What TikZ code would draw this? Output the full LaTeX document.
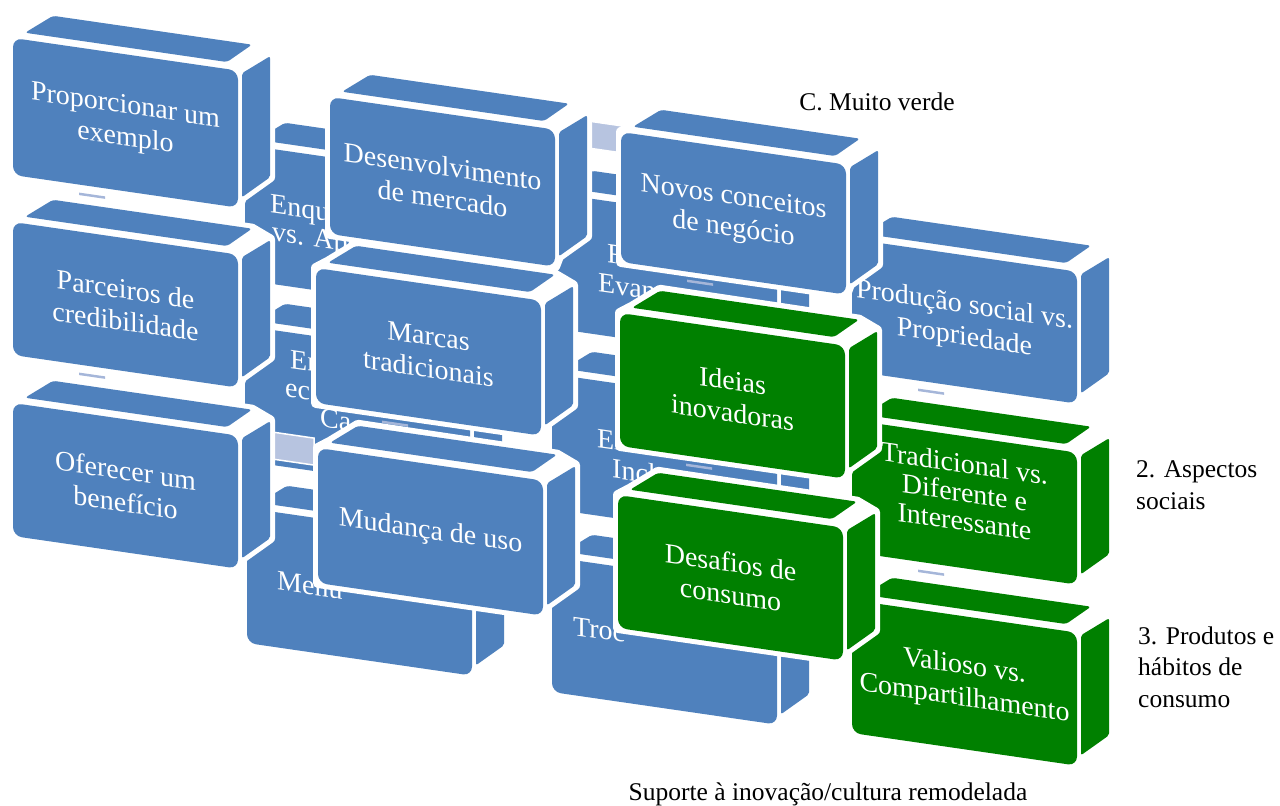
\documentclass[tikz,border=0pt]{standalone}
\usepackage{fontspec}
\setmainfont{Liberation Serif}
\definecolor{slabblue}{HTML}{4F81BD}
\definecolor{slabgreen}{HTML}{008000}
\definecolor{linkblue}{HTML}{B7C4E0}
\definecolor{tickblue}{HTML}{A5B6D9}
\tikzset{
  facetext/.style={text=white, align=center, inner sep=0pt, transform shape,
    font=\fontsize{28}{32}\selectfont},
  peektext/.style={text=white, anchor=base west, inner sep=0pt, transform shape,
    font=\fontsize{28}{32}\selectfont},
  caption/.style={text=black, inner sep=0pt, font=\fontsize{25.5}{31.5}\selectfont},
  hull/.style={fill=white, draw=white, line width=10pt, line join=round},
  linkbar/.style={fill=linkblue, draw=white, line width=1.5pt},
}
% one bevelled slab: #1,#2 = top-left of the front face, #3 = face height,
% #4 = colour, #5 = contents drawn in the slab's own (slanted) frame
\newcommand\slab[5]{%
  \begin{scope}[shift={(#1,#2)}, yslant=-0.145]
    \path[hull] (0,#3) -- (0,0) -- (12,-8) -- (40,-29) -- (239,-28) -- (257,-20)
      -- (257,#3-35) -- (229,#3-11) -- (225,#3) -- cycle;
    \fill[#4, rounded corners=9pt] (0,0) -- (225,0) -- (225,#3) -- (0,#3) -- cycle;
    \fill[#4, rounded corners=3pt] (12,-7) -- (40,-28) -- (239,-28) -- (214,-7) -- cycle;
    \fill[#4, rounded corners=2pt] (229,2) -- (257,-19) -- (257,#3-35) -- (229,#3-11) -- cycle;
    #5
  \end{scope}}
% small down link under a slab of height #1
\newcommand\slabtick[1]{\fill[tickblue] (66,#1+8) rectangle (92,#1+10.5);}

\begin{document}
\begin{tikzpicture}[x=1pt, y=-1pt]
\useasboundingbox (0,0) rectangle (1280,806);

% ---- back row, left
\slab{245}{145}{135}{slabblue}{%
  \node[peektext] (b1a) at (25,64) {Enqu};
  \node[peektext] (b1b) at (27,92) {vs. Apo};}
\slab{245}{326}{135}{slabblue}{%
  \node[peektext] (b2a) at (45,35.5) {En};
  \node[peektext] (b2b) at (40,65) {eco};
  \node[peektext] (b2c) at (75,90) {Ca};}
\slab{247}{508}{135}{slabblue}{%
  \node[peektext] (b3a) at (30,77.5) {Menu};}

% ---- back row, middle
\slab{552}{193}{135}{slabblue}{%
  \node[peektext] (d1a) at (55,61) {F};
  \node[peektext] (d1b) at (46,92) {Evan};}
\slab{552}{374}{135}{slabblue}{%
  \node[peektext] (d2a) at (45,66.5) {Ex};
  \node[peektext] (d2b) at (60,95) {Incl};}
\slab{552}{557}{135}{slabblue}{%
  \node[peektext] (d3a) at (21,75) {Troc};}

% ---- links between the front columns
\begin{scope}[shift={(272,432)}, yslant=-0.145]
  \path[linkbar] (0,0) rectangle (42,27);
\end{scope}
\begin{scope}[shift={(588,121)}, yslant=-0.145]
  \path[linkbar] (0,0) rectangle (36,27);
\end{scope}

% ---- right column
\slab{852}{239}{132}{slabblue}{%
  \node[facetext] (f1) at (112.5,67) {Produção social vs.\\Propriedade};
  \slabtick{132}}
\slab{852}{420}{132}{slabgreen}{%
  \node[facetext, font=\fontsize{28}{29}\selectfont] (f2) at (112.5,56) {Tradicional vs.\\Diferente e\\Interessante};
  \slabtick{132}}
\slab{852}{600}{133}{slabgreen}{%
  \node[facetext] (f3) at (112.5,67) {Valioso vs.\\Compartilhamento};}

% ---- front column 1
\slab{13}{38}{137}{slabblue}{%
  \node[facetext] (a1) at (112.5,69) {Proporcionar um\\exemplo};
  \slabtick{137}}
\slab{13}{222}{133}{slabblue}{%
  \node[facetext] (a2) at (112.5,67) {Parceiros de\\credibilidade};
  \slabtick{133}}
\slab{13}{403}{133}{slabblue}{%
  \node[facetext] (a3) at (112.5,67) {Oferecer um\\benefício};}

% ---- front column 2
\slab{330}{97}{137}{slabblue}{%
  \node[facetext] (c1) at (112.5,69) {Desenvolvimento\\de mercado};
  \slabtick{137}}
\slab{316}{268}{135}{slabblue}{%
  \node[facetext] (c2) at (112.5,68) {Marcas\\tradicionais};
  \slabtick{135}}
\slab{318}{448}{135}{slabblue}{%
  \node[facetext] (c3) at (112.5,68) {Mudança de uso};}

% ---- front column 3
\slab{621}{132}{130}{slabblue}{%
  \node[facetext] (e1) at (112.5,66) {Novos conceitos\\de negócio};
  \slabtick{130}}
\slab{620}{313}{133}{slabgreen}{%
  \node[facetext] (e2) at (112.5,67) {Ideias\\inovadoras};
  \slabtick{133}}
\slab{618}{495}{133}{slabgreen}{%
  \node[facetext] (e3) at (112.5,67) {Desafios de\\consumo};}

% ---- captions
\node[caption, anchor=base] (top) at (877,110) {C. Muito verde};
\node[caption, anchor=base west, align=left] (social) at (1136,509) {2. Aspectos\\sociais};
\node[caption, anchor=base west, align=left] (habits) at (1138,707) {3. Produtos e\\hábitos de\\consumo};
\node[caption, anchor=base] (bottom) at (828,800) {Suporte à inovação/cultura remodelada};
\end{tikzpicture}
\end{document}
